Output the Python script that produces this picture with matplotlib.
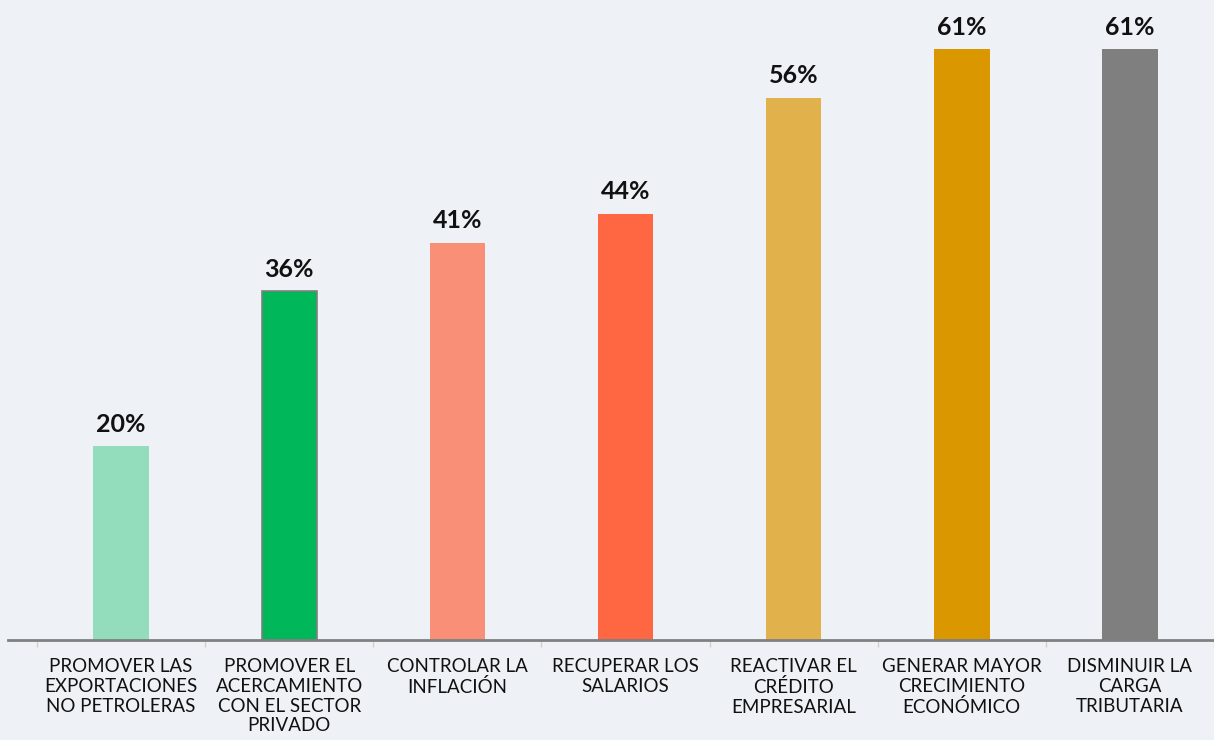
import matplotlib
matplotlib.use("Agg")
import matplotlib.pyplot as plt
import numpy as np

categories = [
    "PROMOVER LAS\nEXPORTACIONES\nNO PETROLERAS",
    "PROMOVER EL\nACERCAMIENTO\nCON EL SECTOR\nPRIVADO",
    "CONTROLAR LA\nINFLACIÓN",
    "RECUPERAR LOS\nSALARIOS",
    "REACTIVAR EL\nCRÉDITO\nEMPRESARIAL",
    "GENERAR MAYOR\nCRECIMIENTO\nECONÓMICO",
    "DISMINUIR LA\nCARGA\nTRIBUTARIA",
]
values = [20, 36, 41, 44, 56, 61, 61]
value_labels = ["20%", "36%", "41%", "44%", "56%", "61%", "61%"]
colors = ["#93dcbc", "#00b85a", "#fa8f77", "#ff6642", "#e1b24c", "#db9700", "#7f7f7f"]

plt.rcParams['font.family'] = ['Lato', 'DejaVu Sans']
bg = "#eef2f6"
fig = plt.figure(figsize=(12.14, 7.40), dpi=100, facecolor=bg)
ax = fig.add_axes([8/1214, 100/740, 1206/1214, 640/740], facecolor=bg)

x = np.arange(len(values))
bars = ax.bar(x, values, width=0.33, color=colors, zorder=2)
bars[1].set_edgecolor("#7f7f7f")
bars[1].set_linewidth(1.2)

for xi, v, lab in zip(x, values, value_labels):
    ax.text(xi, v + 1.1, lab, ha="center", va="bottom", fontsize=18,
            fontweight="bold", color="#111111")

ax.set_xlim(-0.673, 6.5)
ax.set_ylim(0, 66.1)
ax.set_yticks([])
for s in ["top", "right", "left"]:
    ax.spines[s].set_visible(False)
ax.spines["bottom"].set_color("#808080")
ax.spines["bottom"].set_linewidth(2)

ax.set_xticks(x)
ax.set_xticklabels(categories, fontsize=13.5, color="#111111", linespacing=1.2)
ax.tick_params(axis="x", which="major", length=0, pad=13)
ax.set_xticks(np.arange(-0.5, 7.0, 1.0), minor=True)
ax.tick_params(axis="x", which="minor", length=5, color="#d0d0d0", width=1)

fig.savefig("out.png", dpi=100, facecolor=bg)
